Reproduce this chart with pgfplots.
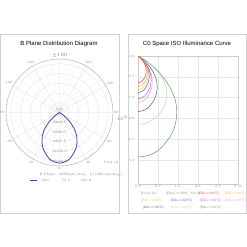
\documentclass[border=0pt]{standalone}
\usepackage{pgfplots}
\pgfplotsset{compat=1.18}
\usepgfplotslibrary{polar}
\usepackage{fontspec}
\newfontfamily\arialf{Liberation Sans}
\definecolor{lobe}{HTML}{4B3FA8}
\definecolor{c90}{HTML}{E03A3A}
\definecolor{c80}{HTML}{F0B040}
\definecolor{c70}{HTML}{D6D24A}
\definecolor{c60}{HTML}{4A4AC8}
\definecolor{c50}{HTML}{D040D0}
\definecolor{c40}{HTML}{E890C8}
\definecolor{c30}{HTML}{604868}
\definecolor{c20}{HTML}{A8E0A8}
\definecolor{c10}{HTML}{48A048}
\newcommand{\tinyf}{\fontsize{3.3}{4}\selectfont}
\begin{document}
\begin{tikzpicture}[x=1pt,y=1pt]
\path[use as bounding box, fill=white] (0,0) rectangle (247,247);
\draw[gray!35, line width=0.6pt] (0.5,34) rectangle (119,213);
\draw[gray!35, line width=0.6pt] (128,34) rectangle (246.5,213);
\node[font=\arialf\fontsize{6}{7}\selectfont] at (59,203) {B Plane Distribution Diagram};
\node[font=\arialf\fontsize{6}{7}\selectfont] at (187,203) {C0 Space ISO Illuminance Curve};

\begin{polaraxis}[at={(59.5pt,134.5pt)}, anchor=center, scale only axis,
  width=107pt, height=107pt,
  xmin=0, xmax=360, ymin=0, ymax=18108.75,
  ytick={3292.5,6585,9877.5,13170,16462.5}, yticklabels={},
  xtick={0,30,...,330},
  xticklabels={90,120,150,$\pm180$,-150,-120,-90,-60,-30,0,30,60},
  minor x tick num=2,
  grid=both,
  major grid style={gray!25, line width=0.3pt},
  minor grid style={gray!12, line width=0.2pt},
  separate axis lines,
  x axis line style={gray!70, line width=0.4pt},
  y axis line style={draw=none},
  tick style={draw=none},
  tick label style={font=\tinyf, text=gray},
  xticklabel style={inner sep=1pt}]
\addplot[lobe, line width=0.8pt, smooth] coordinates {
 (205,0) (210,329) (216,1976) (222,4610) (228,7573) (234,9878) (240,11853)
 (246,13499) (252,14816) (258,16133) (264,16792) (270,17121) (276,16792)
 (282,16133) (288,14816) (294,13499) (300,11853) (306,9878) (312,7573)
 (318,4610) (324,1976) (330,329) (335,0)};
\node[font=\tinyf, text=gray] at (axis cs:90,900) {0.0};
\node[font=\tinyf, text=gray] at (axis cs:270,3292.5) {3292.5};
\node[font=\tinyf, text=gray] at (axis cs:270,6585) {6585.0};
\node[font=\tinyf, text=gray] at (axis cs:270,9877.5) {9877.5};
\node[font=\tinyf, text=gray] at (axis cs:270,13170) {13170.0};
\node[font=\tinyf, text=gray] at (axis cs:270,16462.5) {16462.5};
\end{polaraxis}
\node[font=\tinyf, text=gray] at (111,85) {Unit:cd};
\node[font=\tinyf, text=gray, anchor=west] at (36,72) {B Plane\quad (90Beam)Avg.\quad [(1/2Beam)Avg.]};
\draw[lobe, line width=0.6pt] (30,67) -- (37,67);
\node[font=\tinyf, text=gray, anchor=west] at (38,67) {30.0 :};
\node[font=\tinyf, text=gray] at (66,67) {73.3};
\node[font=\tinyf, text=gray] at (86,67) {100.0};

\begin{axis}[at={(138pt,63pt)}, anchor=south west, scale only axis,
  width=100pt, height=128pt,
  xmin=0, xmax=3.35, ymin=0, ymax=4.1, y dir=reverse,
  xtick={0,0.67,1.33,2,2.67,3.35}, xticklabels={0.0,0.7,1.3,2.0,2.7,3.35},
  ytick={0,0.67,1.33,2,2.67,3.33}, yticklabels={0.0,0.7,1.3,2.0,2.7,3.3},
  xticklabel pos=left, yticklabel pos=left,
  grid=major, major grid style={gray!20, line width=0.3pt},
  axis line style={gray!40, line width=0.4pt},
  tick style={draw=none},
  tick label style={font=\tinyf, text=gray},
  xticklabel style={inner sep=1pt},
  every axis plot/.append style={line width=0.45pt, smooth}]
\addplot[c10] coordinates {(0,0) (0.275,0.159) (0.680,0.496) (1.021,0.920) (1.241,1.380) (1.299,1.792) (1.254,2.171) (1.118,2.514) (0.907,2.796) (0.648,3.042) (0.334,3.185) (0,3.24)};
\addplot[c20] coordinates {(0,0) (0.205,0.107) (0.506,0.335) (0.759,0.622) (0.923,0.933) (0.966,1.211) (0.932,1.467) (0.831,1.699) (0.675,1.890) (0.482,2.056) (0.248,2.153) (0,2.19)};
\addplot[c30] coordinates {(0,0) (0.136,0.087) (0.336,0.272) (0.505,0.506) (0.614,0.758) (0.642,0.984) (0.620,1.193) (0.553,1.381) (0.449,1.536) (0.320,1.671) (0.165,1.750) (0,1.78)};
\addplot[c40] coordinates {(0,0) (0.101,0.073) (0.250,0.228) (0.375,0.423) (0.457,0.635) (0.478,0.824) (0.461,0.998) (0.411,1.156) (0.334,1.286) (0.238,1.399) (0.123,1.465) (0,1.49)};
\addplot[c50] coordinates {(0,0) (0.093,0.067) (0.230,0.210) (0.345,0.389) (0.420,0.584) (0.439,0.758) (0.424,0.918) (0.378,1.063) (0.307,1.182) (0.219,1.286) (0.113,1.347) (0,1.37)};
\addplot[c60] coordinates {(0,0) (0.080,0.057) (0.197,0.179) (0.295,0.332) (0.358,0.498) (0.375,0.647) (0.362,0.784) (0.323,0.908) (0.262,1.010) (0.187,1.099) (0.096,1.150) (0,1.17)};
\addplot[c70] coordinates {(0,0) (0.073,0.053) (0.181,0.165) (0.272,0.307) (0.331,0.460) (0.346,0.597) (0.334,0.724) (0.298,0.838) (0.242,0.932) (0.173,1.014) (0.089,1.062) (0,1.08)};
\addplot[c80] coordinates {(0,0) (0.067,0.048) (0.165,0.150) (0.247,0.278) (0.300,0.417) (0.314,0.542) (0.303,0.657) (0.270,0.760) (0.220,0.846) (0.157,0.920) (0.081,0.963) (0,0.98)};
\addplot[c90] coordinates {(0,0) (0.058,0.042) (0.144,0.132) (0.217,0.244) (0.264,0.366) (0.276,0.476) (0.266,0.576) (0.237,0.667) (0.193,0.742) (0.138,0.808) (0.071,0.845) (0,0.86)};
\end{axis}
\node[font=\tinyf, text=gray, anchor=west] at (137,53) {[Unit:lx]};
\node[font=\tinyf, text=gray, anchor=west] at (162,53) {[Ehc]=(600, 78)=};
\node[font=\tinyf, text=c90, anchor=west] at (194,53) {[Ehc=90\%]};
\node[font=\tinyf, text=c80, anchor=west] at (219,53) {--[Ehc=80\%]};
\node[font=\tinyf, text=c70, anchor=west] at (137,46) {[Ehc=70\%]};
\node[font=\tinyf, text=c60, anchor=west] at (165,46) {--[Ehc=60\%]};
\node[font=\tinyf, text=c50, anchor=west] at (194,46) {--[Ehc=50\%]};
\node[font=\tinyf, text=c40, anchor=west] at (219,46) {--[Ehc=40\%]};
\node[font=\tinyf, text=c30, anchor=west] at (137,39) {--[Ehc=30\%]};
\node[font=\tinyf, text=c20, anchor=west] at (165,39) {--[Ehc=20\%]};
\node[font=\tinyf, text=c10, anchor=west] at (194,39) {--[Ehc=10\%]};
\end{tikzpicture}
\end{document}
